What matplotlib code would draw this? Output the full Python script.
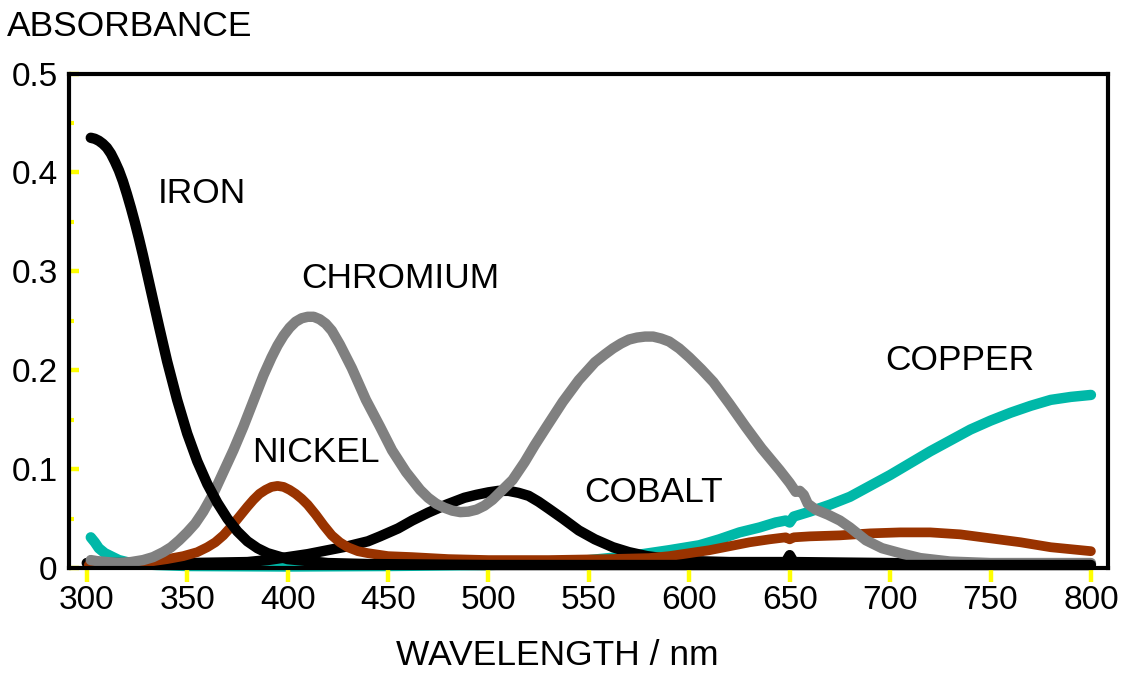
import matplotlib
matplotlib.use("Agg")
import matplotlib.pyplot as plt

plt.rcParams['font.family'] = ['Liberation Sans', 'DejaVu Sans']

# ---------------- data ----------------
iron_nm = [302, 304, 306, 308, 310, 312, 314, 316, 318, 320, 322, 324, 326, 328, 330, 333,
           336, 340, 345, 350, 355, 360, 365, 370, 375, 380, 385, 390, 395, 400, 410, 420,
           440, 500, 600, 700, 800]
iron_abs = [0.435, 0.434, 0.432, 0.429, 0.425, 0.419, 0.411, 0.402, 0.391, 0.378, 0.364,
            0.349, 0.333, 0.316, 0.298, 0.271, 0.244, 0.209, 0.170, 0.136, 0.108, 0.085,
            0.066, 0.050, 0.037, 0.027, 0.020, 0.015, 0.012, 0.009, 0.007, 0.005, 0.004,
            0.003, 0.003, 0.003, 0.003]

cobalt_nm = [300, 350, 380, 390, 400, 410, 420, 430, 440, 446, 455, 462, 470, 479, 488,
             494, 500, 505, 510, 515, 520, 525, 530, 537, 545, 553, 562, 570, 579, 590,
             600, 620, 640, 648, 650, 652, 700, 750, 800]
cobalt_abs = [0.005, 0.005, 0.006, 0.008, 0.011, 0.014, 0.018, 0.022, 0.027, 0.032, 0.040,
              0.048, 0.056, 0.064, 0.071, 0.074, 0.0765, 0.078, 0.078, 0.076, 0.073, 0.067,
              0.060, 0.050, 0.038, 0.029, 0.021, 0.016, 0.012, 0.009, 0.007, 0.006, 0.006,
              0.006, 0.013, 0.006, 0.005, 0.004, 0.004]

chromium_nm = [302, 305, 310, 316, 322, 328, 333, 338, 342, 346, 350, 354, 358, 363, 368,
               373, 378, 383, 388, 392, 395, 398, 401, 404, 407, 410, 413, 416, 419, 422,
               426, 432, 439, 446, 452, 459, 466, 470, 474, 478, 482, 486, 490, 494, 498,
               502, 507, 512, 518, 523, 529, 537, 545, 553, 558, 562, 566, 570, 574, 578,
               582, 586, 590, 595, 600, 606, 612, 620, 628, 636, 645, 650, 653, 655, 657,
               659, 663, 669, 675, 680, 688, 696, 705, 715, 730, 750, 770, 800]
chromium_abs = [0.008, 0.007, 0.006, 0.005, 0.006, 0.008, 0.011, 0.016, 0.021, 0.028, 0.036,
                0.045, 0.057, 0.075, 0.097, 0.119, 0.143, 0.169, 0.195, 0.213, 0.225, 0.235,
                0.243, 0.249, 0.2525, 0.254, 0.254, 0.2515, 0.247, 0.240, 0.226, 0.202,
                0.170, 0.143, 0.119, 0.097, 0.079, 0.071, 0.065, 0.061, 0.058, 0.0565, 0.057,
                0.059, 0.063, 0.069, 0.079, 0.089, 0.107, 0.124, 0.143, 0.168, 0.190, 0.208,
                0.216, 0.222, 0.227, 0.231, 0.233, 0.234, 0.234, 0.232, 0.229, 0.222, 0.213,
                0.201, 0.188, 0.166, 0.143, 0.121, 0.099, 0.086, 0.077, 0.078, 0.074, 0.065,
                0.059, 0.054, 0.048, 0.041, 0.028, 0.020, 0.015, 0.010, 0.0065, 0.005, 0.005,
                0.005]

nickel_nm = [301, 310, 320, 330, 340, 348, 355, 360, 364, 368, 372, 376, 380, 383, 386,
             389, 392, 395, 398, 401, 404, 407, 410, 414, 418, 422, 426, 430, 435, 440,
             450, 462, 480, 500, 530, 560, 580, 590, 600, 610, 620, 630, 640, 648, 650,
             652, 660, 675, 690, 705, 720, 735, 750, 765, 780, 800]
nickel_abs = [0.003, 0.003, 0.004, 0.006, 0.009, 0.012, 0.016, 0.021, 0.026, 0.033, 0.042,
              0.052, 0.062, 0.069, 0.075, 0.079, 0.082, 0.083, 0.082, 0.079, 0.075, 0.070,
              0.064, 0.054, 0.043, 0.033, 0.026, 0.021, 0.017, 0.015, 0.012, 0.011, 0.009,
              0.008, 0.008, 0.009, 0.010, 0.012, 0.015, 0.018, 0.022, 0.026, 0.029, 0.031,
              0.029, 0.031, 0.032, 0.033, 0.035, 0.036, 0.036, 0.034, 0.030, 0.026, 0.021,
              0.017]

copper_nm = [302, 304, 306, 309, 312, 316, 320, 325, 335, 350, 400, 450, 500, 530, 550,
             570, 590, 605, 615, 625, 635, 643, 648, 650, 652, 660, 670, 680, 690, 700,
             710, 720, 730, 740, 750, 760, 770, 780, 790, 800]
copper_abs = [0.031, 0.026, 0.020, 0.015, 0.012, 0.008, 0.006, 0.004, 0.003, 0.002, 0.0015,
              0.002, 0.003, 0.005, 0.008, 0.012, 0.018, 0.023, 0.029, 0.036, 0.041, 0.046,
              0.048, 0.046, 0.052, 0.057, 0.064, 0.072, 0.083, 0.094, 0.106, 0.118, 0.129,
              0.140, 0.149, 0.157, 0.164, 0.170, 0.173, 0.175]

x_ticks = [300, 350, 400, 450, 500, 550, 600, 650, 700, 750, 800]
x_tick_labels = ['300', '350', '400', '450', '500', '550', '600', '650', '700', '750', '800']
y_ticks = [0.0, 0.1, 0.2, 0.3, 0.4, 0.5]
y_tick_labels = ['0', '0.1', '0.2', '0.3', '0.4', '0.5']
y_minor_ticks = [0.05, 0.15, 0.25, 0.35, 0.45]

labels = ['IRON', 'CHROMIUM', 'NICKEL', 'COBALT', 'COPPER']
label_x = [335.4, 406.9, 382.5, 547.5, 697.4]
label_y = [0.3688, 0.2828, 0.1069, 0.0664, 0.2002]

# ---------------- figure ----------------
W, H = 1138, 674
fig = plt.figure(figsize=(W / 100, H / 100), dpi=100)
ax = fig.add_axes([68.7 / W, 1 - 568 / H, (1108 - 68.7) / W, (568 - 73.5) / H])

lw = 7.5
common = dict(solid_capstyle='round', solid_joinstyle='round', clip_on=False)
ax.plot(copper_nm, copper_abs, color='#00B8A8', lw=lw, zorder=1.0, **common)
ax.plot(cobalt_nm, cobalt_abs, color='black', lw=lw, zorder=1.1, **common)
ax.plot(nickel_nm, nickel_abs, color='#993300', lw=7.0, zorder=1.2, **common)
ax.plot(chromium_nm, chromium_abs, color='#808080', lw=lw, zorder=1.3, **common)
ax.plot(iron_nm, iron_abs, color='black', lw=lw, zorder=1.4, **common)

ax.set_xlim(291.0, 808.5)
ax.set_ylim(0, 0.5)

for s in ax.spines.values():
    s.set_linewidth(3)
    s.set_color('black')

ax.set_xticks(x_ticks)
ax.set_xticklabels(x_tick_labels)
ax.set_yticks(y_ticks)
ax.set_yticklabels(y_tick_labels)
ax.set_yticks(y_minor_ticks, minor=True)

ax.tick_params(axis='x', which='major', direction='out', length=10, width=3.2,
               color='#FFFF00', labelsize=24, pad=2)
ax.tick_params(axis='y', which='major', direction='in', length=7, width=3.2,
               color='#FFFF00', labelsize=24, pad=8)
ax.tick_params(axis='y', which='minor', direction='in', length=3.5, width=3,
               color='#FFFF00')

fs = 25.5
for t, xx, yy in zip(labels, label_x, label_y):
    ax.text(xx, yy, t, fontsize=fs, ha='left', va='baseline', color='black')

fig.text(7 / W, 1 - 36 / H, 'ABSORBANCE', fontsize=fs, ha='left', va='baseline')
fig.text(557.5 / W, 1 - 665 / H, 'WAVELENGTH / nm', fontsize=fs, ha='center', va='baseline')

fig.savefig('out.png', dpi=100)
